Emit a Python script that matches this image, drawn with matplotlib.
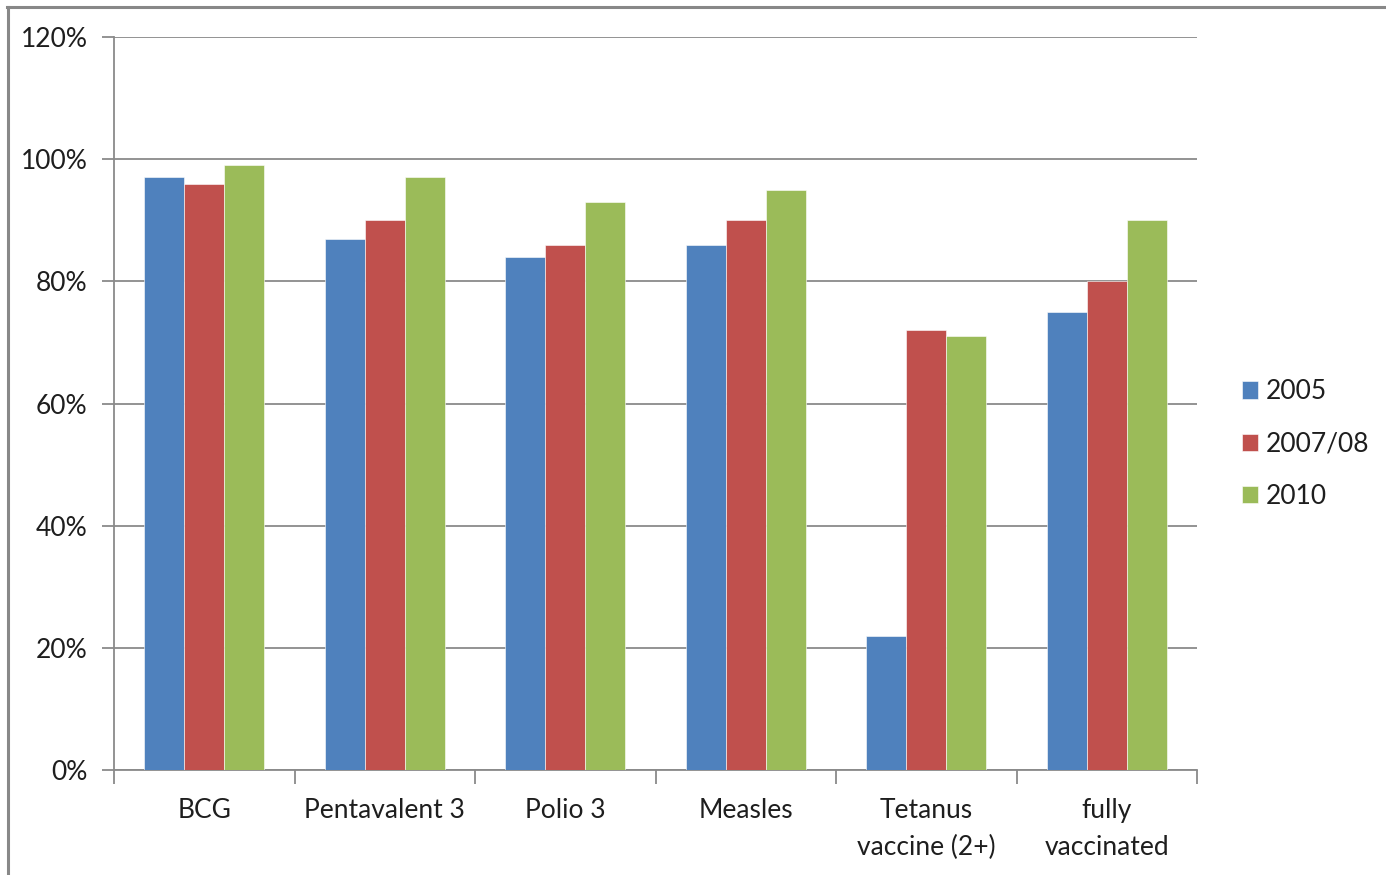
import matplotlib
matplotlib.use("Agg")
import matplotlib.pyplot as plt
import numpy as np
from matplotlib.lines import Line2D

# Immunisation coverage by vaccine and survey round
categories = ["BCG", "Pentavalent 3", "Polio 3", "Measles", "Tetanus\nvaccine (2+)", "fully\nvaccinated"]
series_names = ["2005", "2007/08", "2010"]
cov_2005 = [97, 87, 84, 86, 22, 75]
cov_2007_08 = [96, 90, 86, 90, 72, 80]
cov_2010 = [99, 97, 93, 95, 71, 90]
y_ticks = [0, 20, 40, 60, 80, 100, 120]

colors = ["#4F81BD", "#C0504D", "#9BBB59"]
font = "Lato"
grey = "#8a8a8a"
text_color = "#1e1e1e"

fig = plt.figure(figsize=(13.86, 8.75), dpi=100)
ax = fig.add_axes([114 / 1386, 1 - 770 / 875, (1197 - 114) / 1386, (770 - 37) / 875])

x = np.arange(len(categories))
width = 0.2217
for i, (vals, name) in enumerate(zip([cov_2005, cov_2007_08, cov_2010], series_names)):
    ax.bar(x + (i - 1) * width, vals, width, color=colors[i], label=name,
           edgecolor="white", linewidth=0.4, zorder=3)

ax.set_xlim(-0.5, len(categories) - 0.5)
ax.set_ylim(0, 120)
ax.set_yticks(y_ticks)
ax.set_yticklabels([f"{v}%" for v in y_ticks], fontfamily=font, fontsize=19, color=text_color)
ax.yaxis.grid(True, color=grey, linewidth=1.3, zorder=0)
ax.tick_params(axis="y", length=9, width=1.3, color=grey, pad=10)

# category labels centred, ticks at the category boundaries
ax.set_xticks(x)
ax.set_xticklabels(categories, fontfamily=font, fontsize=19, color=text_color, linespacing=1.62)
ax.tick_params(axis="x", length=0, pad=20)
ax.set_xticks(np.arange(-0.5, len(categories)), minor=True)
ax.tick_params(axis="x", which="minor", length=10, width=1.3, color=grey)

for side in ["top", "right"]:
    ax.spines[side].set_visible(False)
ax.spines["left"].set_color(grey)
ax.spines["left"].set_linewidth(1.3)
ax.spines["bottom"].set_color(grey)
ax.spines["bottom"].set_linewidth(1.3)

leg = fig.legend(loc="center left", bbox_to_anchor=(1218 / 1386, 1 - 444 / 875),
                 frameon=False, prop={"family": font, "size": 19},
                 handlelength=0.62, handleheight=0.62, handletextpad=0.3, labelspacing=1.03)
for t in leg.get_texts():
    t.set_color(text_color)

# outer frame around the chart area
fig.add_artist(Line2D([7 / 1386, 1], [1 - 6.5 / 875, 1 - 6.5 / 875], color="#888888", linewidth=2.2,
                      transform=fig.transFigure))
fig.add_artist(Line2D([7.5 / 1386, 7.5 / 1386], [0, 1 - 6.5 / 875], color="#888888", linewidth=2.2,
                      transform=fig.transFigure))

fig.savefig("out.png", dpi=100)
